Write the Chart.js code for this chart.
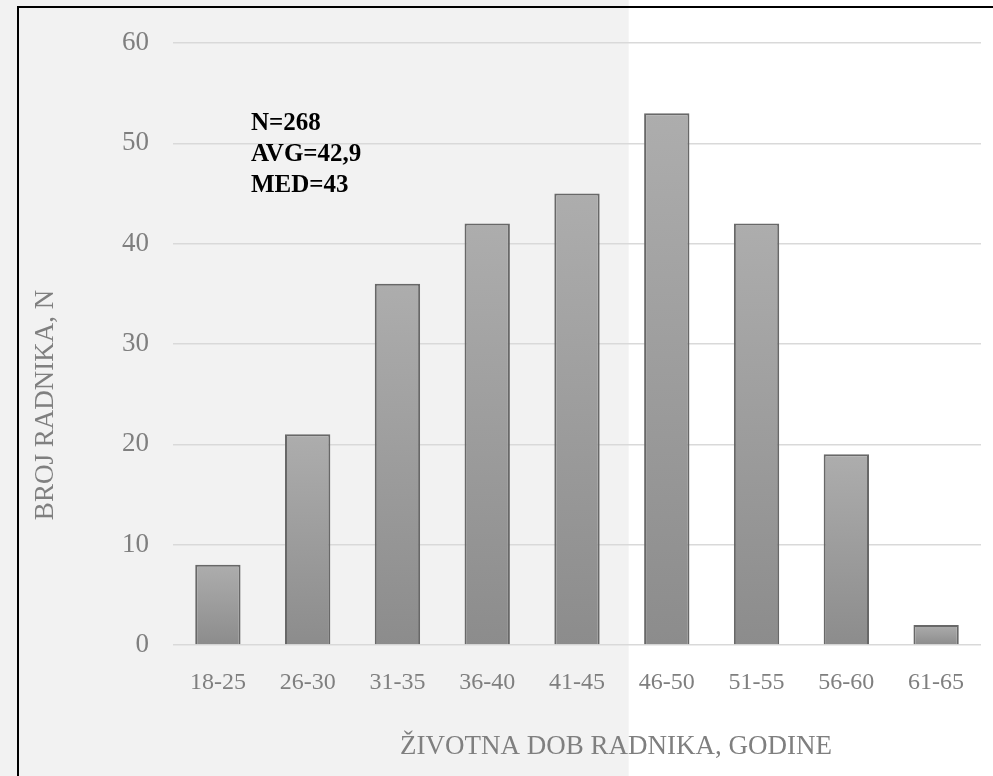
<!DOCTYPE html>
<html>
<head>
<meta charset="utf-8">
<script src="https://cdn.jsdelivr.net/npm/chart.js@4/dist/chart.umd.min.js"></script>
<style>
  html, body { margin: 0; padding: 0; background: #ffffff; }
  #ageChart { display: block; }
</style>
</head>
<body>
<canvas id="ageChart" width="993" height="776"></canvas>
<script>
// age groups and worker counts
const ageGroups = ['18-25', '26-30', '31-35', '36-40', '41-45', '46-50', '51-55', '56-60', '61-65'];
const workerCounts = [8, 21, 36, 42, 45, 53, 42, 19, 2];
const yTicks = [0, 10, 20, 30, 40, 50, 60];
const statsLines = ['N=268', 'AVG=42,9', 'MED=43'];
const xTitle = 'ŽIVOTNA DOB RADNIKA, GODINE';
const yTitle = 'BROJ RADNIKA, N';

const serif = '"Liberation Serif", "Times New Roman", serif';
const textGray = '#7f7f7f';

// page background, half grey panel, black frame, axis titles and stats text
const frame = {
    id: 'frame',
    beforeDraw(chart) {
        const c = chart.ctx;
        c.save();
        c.fillStyle = '#ffffff';
        c.fillRect(0, 0, chart.width, chart.height);
        c.fillStyle = '#f2f2f2';
        c.fillRect(0, 0, 628.7, chart.height);
        c.strokeStyle = '#000000';
        c.lineWidth = 2;
        c.beginPath();
        c.moveTo(18, chart.height);
        c.lineTo(18, 7);
        c.lineTo(chart.width, 7);
        c.stroke();
        c.restore();
    },
    afterDraw(chart) {
        const c = chart.ctx;
        c.save();
        // axis titles sit off-centre in the original
        c.fillStyle = textGray;
        c.font = '27px ' + serif;
        c.textAlign = 'center';
        c.textBaseline = 'middle';
        c.fillText(xTitle, 616, 747);
        c.translate(46, 405);
        c.rotate(-Math.PI / 2);
        c.fillText(yTitle, 0, 0);
        c.restore();

        c.save();
        c.fillStyle = '#000000';
        c.font = 'bold 25px ' + serif;
        c.textBaseline = 'alphabetic';
        statsLines.forEach(function (line, i) {
            c.fillText(line, 251, 130 + i * 30.8);
        });
        c.restore();
    }
};

function barFill(context) {
    const chart = context.chart;
    if (!chart.chartArea) return '#9c9c9c';
    const y = chart.scales.y;
    const top = y.getPixelForValue(context.raw);
    const base = y.getPixelForValue(0);
    const g = chart.ctx.createLinearGradient(0, top, 0, base);
    g.addColorStop(0, '#adadad');
    g.addColorStop(1, '#8c8c8c');
    return g;
}

const ctx = document.getElementById('ageChart').getContext('2d');
new Chart(ctx, {
    type: 'bar',
    data: {
        labels: ageGroups,
        datasets: [{
            data: workerCounts,
            backgroundColor: barFill,
            borderColor: '#686868',
            borderWidth: 2,
            categoryPercentage: 1,
            barPercentage: 0.505
        }]
    },
    options: {
        responsive: false,
        animation: false,
        layout: { padding: { top: 43, right: 12, bottom: 0, left: 0 } },
        plugins: {
            legend: { display: false },
            tooltip: { enabled: false }
        },
        scales: {
            x: {
                grid: { display: false },
                border: { display: false },
                ticks: {
                    color: textGray,
                    padding: 15,
                    font: { family: serif, size: 24 }
                },
                afterFit(scale) { scale.height = 131; }
            },
            y: {
                min: 0,
                max: 60,
                afterBuildTicks(scale) {
                    scale.ticks = yTicks.map(v => ({ value: v }));
                },
                grid: {
                    color: '#d9d9d9',
                    lineWidth: 1.5,
                    drawTicks: false
                },
                border: { display: false },
                ticks: {
                    color: textGray,
                    padding: 24,
                    font: { family: serif, size: 27 }
                },
                afterFit(scale) { scale.width = 173; }
            }
        }
    },
    plugins: [frame]
});
</script>
</body>
</html>
